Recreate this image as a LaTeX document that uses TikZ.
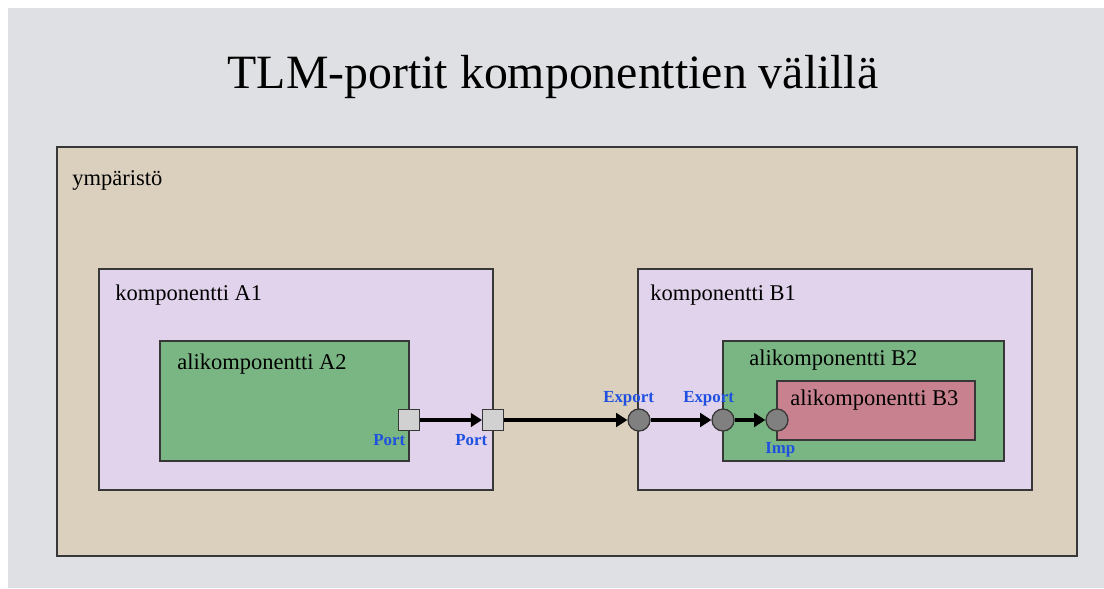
\documentclass[tikz,border=0pt]{standalone}
\usepackage{fontspec}
\setmainfont{Liberation Serif}
\usetikzlibrary{arrows.meta}
\definecolor{slidegray}{RGB}{223,224,228}
\definecolor{envtan}{RGB}{219,207,189}
\definecolor{complav}{RGB}{225,211,236}
\definecolor{subgreen}{RGB}{122,182,131}
\definecolor{subpink}{RGB}{200,130,143}
\definecolor{portblue}{RGB}{30,80,225}
\definecolor{edgegray}{RGB}{55,55,55}
\tikzset{
	boxline/.style={draw=edgegray, line width=0.9pt},
	boxtext/.style={anchor=base west, inner sep=0pt, font=\fontsize{16}{18}\selectfont},
	port/.style={draw=edgegray, line width=0.9pt, fill=black!18, minimum size=0.52cm, inner sep=0pt},
	export/.style={circle, draw=edgegray, line width=0.9pt, fill=black!50, minimum size=0.55cm, inner sep=0pt},
	portlabel/.style={anchor=base west, inner sep=0pt, text=portblue, font=\fontsize{12}{14}\selectfont\bfseries},
	conn/.style={line width=2.8pt, -{Triangle[length=2.8mm,width=3.4mm]}}
}

\begin{document}
\begin{tikzpicture}[x=0.025cm, y=-0.025cm]
		%%%%% START %%%%%
		\useasboundingbox (0, 0) rectangle (1104, 588);
		\fill[white] (0, 0) rectangle (1104, 588);
		\fill[slidegray] (8, 8) rectangle (1104, 588);
		
		\node[anchor=base, inner sep=0pt, font=\fontsize{34}{40}\selectfont] (title) at (553, 88) {TLM-portit komponenttien välillä};
		
		% ympäristö
		\draw[boxline, fill=envtan] (57, 147) rectangle (1077, 556);
		\node[boxtext] (env) at (72, 185) {ympäristö};
		
		% komponentti A1
		\draw[boxline, fill=complav] (99, 269) rectangle (493, 490);
		\node[boxtext] (a1) at (115, 300) {komponentti A1};
		\draw[boxline, fill=subgreen] (160, 341) rectangle (409, 461);
		\node[boxtext] (a2) at (177, 369) {alikomponentti A2};
		
		% komponentti B1
		\draw[boxline, fill=complav] (638, 269) rectangle (1032, 490);
		\node[boxtext] (b1) at (650, 300) {komponentti B1};
		\draw[boxline, fill=subgreen] (723, 341) rectangle (1004, 461);
		\node[boxtext] (b2) at (749, 365) {alikomponentti B2};
		\draw[boxline, fill=subpink] (777, 381) rectangle (975, 440);
		\node[boxtext] (b3) at (790, 405) {alikomponentti B3};
		
		% portit
		\node[port] (pa2) at (409, 420) {};
		\node[port] (pa1) at (493, 420) {};
		\node[export] (eb1) at (639, 420) {};
		\node[export] (eb2) at (723, 420) {};
		\node[export] (ib3) at (777, 420) {};
		
		\draw[conn] (pa2) -- (pa1);
		\draw[conn] (pa1) -- (eb1);
		\draw[conn] (eb1) -- (eb2);
		\draw[conn] (eb2) -- (ib3);
		
		\node[portlabel] (lpa2) at (373, 445) {Port};
		\node[portlabel] (lpa1) at (455, 445) {Port};
		\node[portlabel] (leb1) at (603, 402) {Export};
		\node[portlabel] (leb2) at (683, 402) {Export};
		\node[portlabel] (lib3) at (765, 453) {Imp};
		%%%%% END %%%%%
	\end{tikzpicture}
\end{document}
